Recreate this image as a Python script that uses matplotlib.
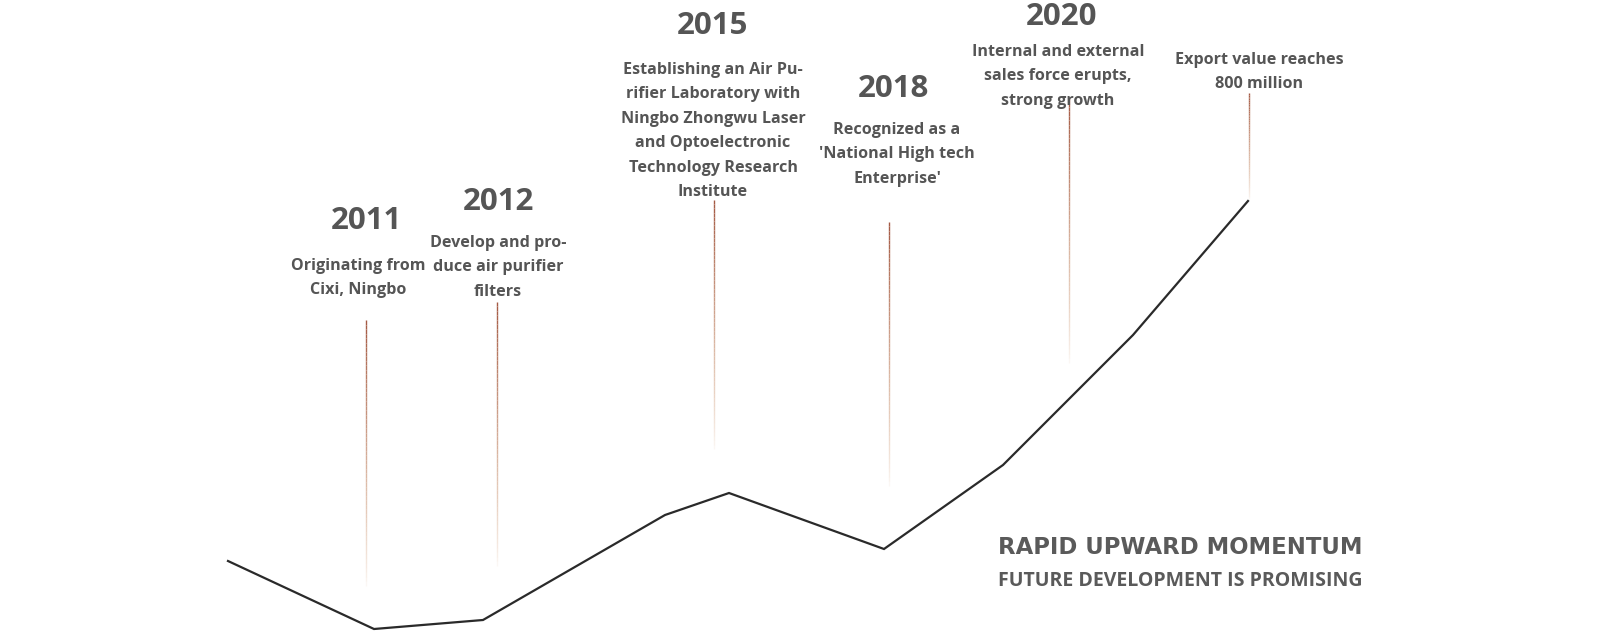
import numpy as np
import matplotlib.pyplot as plt
from matplotlib.collections import LineCollection
from matplotlib.colors import to_rgb

# momentum curve (x position, height above bottom)
curve_x = [228, 374, 483, 665, 729, 884, 1003, 1133, 1248]
curve_y = [74, 6, 15, 120, 142, 86, 170, 300, 434]

# milestones
years = ["2011", "2012", "2015", "2018", "2020", ""]
descriptions = [
    ["Originating from", "Cixi, Ningbo"],
    ["Develop and pro-", "duce air purifier", "filters"],
    ["Establishing an Air Pu-", "rifier Laboratory with", "Ningbo Zhongwu Laser",
     "and Optoelectronic", "Technology Research", "Institute"],
    ["Recognized as a", "'National High tech", "Enterprise'"],
    ["Internal and external", "sales force erupts,", "strong growth"],
    ["Export value reaches", "800 million"],
]
stem_x = [365.5, 496.5, 713.5, 888.5, 1068.5, 1248.5]
stem_top = [315, 333, 435, 413, 537, 542]
stem_bottom = [45, 65, 182, 145, 268, 434]

year_pos = [(366, 414), (498, 433), (712, 609), (893, 546), (1062, 618)]
desc_pos = [(358, 369), (498, 392), (713, 565), (897, 505), (1058, 583), (1259, 575)]
line_gap = 24.4

title1 = "RAPID UPWARD MOMENTUM"
title2 = "FUTURE DEVELOPMENT IS PROMISING"

text_color = "#555555"
body_font = ["Open Sans", "DejaVu Sans"]

fig = plt.figure(figsize=(16.19, 6.35), dpi=100)
ax = fig.add_axes([0, 0, 1, 1])
ax.set_xlim(0, 1619)
ax.set_ylim(0, 635)
ax.axis("off")

# fading stems
top_c = np.array(to_rgb("#a45a44"))
mid_c = np.array(to_rgb("#d9a981"))
for x, t, b in zip(stem_x, stem_top, stem_bottom):
    n = 60
    ys = np.linspace(t, b, n + 1)
    segs = [[(x, ys[i]), (x, ys[i + 1])] for i in range(n)]
    f = np.linspace(0, 1, n)
    cols = np.array([top_c * (1 - v) + mid_c * v for v in f])
    alpha = np.clip(1.0 - f, 0, 1) ** 0.6
    rgba = np.column_stack([cols, alpha])
    ax.add_collection(LineCollection(segs, colors=rgba, linewidths=1.0,
                                     capstyle="butt"))

ax.plot(curve_x, curve_y, color="#2a2a2a", lw=1.6, solid_joinstyle="miter")

for yr, (x, y) in zip(years, year_pos):
    ax.text(x, y, yr, ha="center", va="center", fontsize=22.5,
            fontweight="bold", color=text_color, family=body_font)

for lines, (x, y) in zip(descriptions, desc_pos):
    for i, ln in enumerate(lines):
        ax.text(x, y - i * line_gap, ln, ha="center", va="center",
                fontsize=11.6, fontweight="bold", color=text_color, family=body_font)

ax.text(998, 87, title1, ha="left", va="center", fontsize=16.4,
        fontweight="bold", color="#5a5a5a", family=["DejaVu Sans"])
ax.text(998, 54, title2, ha="left", va="center", fontsize=14,
        fontweight="bold", color="#5a5a5a", family=body_font)

fig.savefig("out.png", dpi=100, facecolor="white")
